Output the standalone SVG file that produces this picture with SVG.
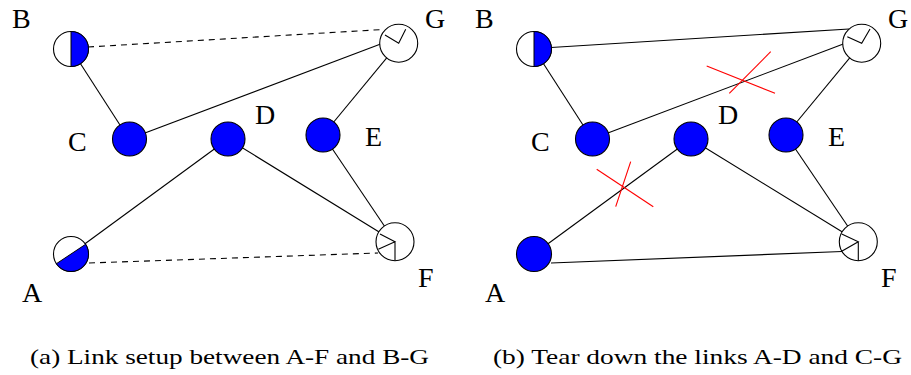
<svg xmlns="http://www.w3.org/2000/svg" width="911" height="375" viewBox="0 0 911 375">
<style>
.e{stroke:#000;stroke-width:1.1;fill:none}
.d{stroke:#000;stroke-width:1.1;fill:none;stroke-dasharray:6,5}
.x{stroke:#ff0000;stroke-width:1.1;fill:none}
.n{stroke:#000;stroke-width:1.1;fill:#fff}
.b{stroke:#000;stroke-width:1.1;fill:#0000ff}
.h{stroke:#000;stroke-width:1;fill:#0000ff}
.r{stroke:#000;stroke-width:1.1;fill:none}
.l{font-family:"Liberation Serif",serif;font-size:28px;fill:#000}
.c{font-family:"Liberation Serif",serif;font-size:22px;fill:#000}
</style>
<rect width="911" height="375" fill="#fff"/>
<g id="connectors">
<line class="e" x1="71" y1="49" x2="129" y2="139"/>
<line class="d" x1="88" y1="47" x2="383" y2="29.5"/>
<line class="e" x1="129" y1="139" x2="380" y2="44.3"/>
<line class="e" x1="228" y1="139" x2="71" y2="254"/>
<line class="e" x1="228" y1="139" x2="395" y2="241.7"/>
<line class="e" x1="323" y1="135" x2="395" y2="241.7"/>
<line class="e" x1="323" y1="135" x2="398.7" y2="43.3"/>
<line class="d" x1="89" y1="263" x2="378" y2="253"/>
<line class="e" x1="534" y1="49" x2="592" y2="139"/>
<line class="e" x1="551" y1="47.5" x2="849" y2="29"/>
<line class="e" x1="592" y1="139" x2="843.3" y2="44"/>
<line class="e" x1="691" y1="139" x2="534" y2="254"/>
<line class="e" x1="691" y1="139" x2="858.3" y2="241.7"/>
<line class="e" x1="786" y1="135" x2="858.3" y2="241.7"/>
<line class="e" x1="786" y1="135" x2="861.7" y2="43.3"/>
<line class="e" x1="551" y1="263" x2="842" y2="251.5"/>
</g>
<g id="cross-AD">
<line class="x" x1="596.7" y1="169.3" x2="653.3" y2="206.7"/>
<line class="x" x1="630.7" y1="161.7" x2="615.7" y2="206.7"/>
</g>
<g id="cross-CG">
<line class="x" x1="706.7" y1="66" x2="775" y2="93.3"/>
<line class="x" x1="770.7" y1="51.7" x2="729.3" y2="93.3"/>
</g>
<g id="a-B">
<circle class="n" cx="71" cy="49" r="17.5"/>
<path class="h" d="M71,31.5 A17.5,17.5 0 0,1 71,66.5 Z"/>
<text class="l" x="12" y="28">B</text>
</g>
<g id="a-C">
<circle class="b" cx="129.5" cy="139" r="17"/>
<text class="l" x="68" y="151">C</text>
</g>
<g id="a-D">
<circle class="b" cx="228" cy="139" r="17"/>
<text class="l" x="255" y="124">D</text>
</g>
<g id="a-E">
<circle class="b" cx="323" cy="135" r="17"/>
<text class="l" x="365" y="146">E</text>
</g>
<g id="a-G">
<circle class="n" cx="398.7" cy="43.3" r="19"/>
<path class="r" d="M405.7,29.3 L398.7,43.3 L385,35"/>
<text class="l" x="425" y="28">G</text>
</g>
<g id="a-A">
<circle class="n" cx="71" cy="254" r="17.5"/>
<path class="h" d="M85.6,244.3 A17.5,17.5 0 0,1 56.4,263.7 Z"/>
<text class="l" x="22" y="302">A</text>
</g>
<g id="a-F">
<circle class="n" cx="395" cy="241.7" r="19"/>
<path class="r" d="M380,234 L395,241.7 L378.3,249.3 M395,241.7 L395,260.7"/>
<text class="l" x="418" y="287">F</text>
</g>
<g id="b-B">
<circle class="n" cx="534" cy="49" r="17.5"/>
<path class="h" d="M534,31.5 A17.5,17.5 0 0,1 534,66.5 Z"/>
<text class="l" x="475" y="28">B</text>
</g>
<g id="b-C">
<circle class="b" cx="592.5" cy="139" r="17"/>
<text class="l" x="531" y="151">C</text>
</g>
<g id="b-D">
<circle class="b" cx="691" cy="139" r="17"/>
<text class="l" x="718" y="124">D</text>
</g>
<g id="b-E">
<circle class="b" cx="786" cy="135" r="17"/>
<text class="l" x="828" y="146">E</text>
</g>
<g id="b-G">
<circle class="n" cx="861.7" cy="43.3" r="19"/>
<path class="r" d="M870,29 L861.7,43.3 L847.3,36.7"/>
<text class="l" x="888" y="28">G</text>
</g>
<g id="b-A">
<circle class="b" cx="534" cy="254" r="17.5"/>
<text class="l" x="485" y="302">A</text>
</g>
<g id="b-F">
<circle class="n" cx="858.3" cy="241.7" r="19"/>
<path class="r" d="M841.7,234 L858.3,241.7 L841.7,251.3 M858.3,241.7 L858.3,260.7"/>
<text class="l" x="881" y="287">F</text>
</g>
<g id="captions">
<text class="c" x="30" y="364" textLength="399" lengthAdjust="spacingAndGlyphs">(a) Link setup between A-F and B-G</text>
<text class="c" x="493" y="364" textLength="409" lengthAdjust="spacingAndGlyphs">(b) Tear down the links A-D and C-G</text>
</g>
</svg>
